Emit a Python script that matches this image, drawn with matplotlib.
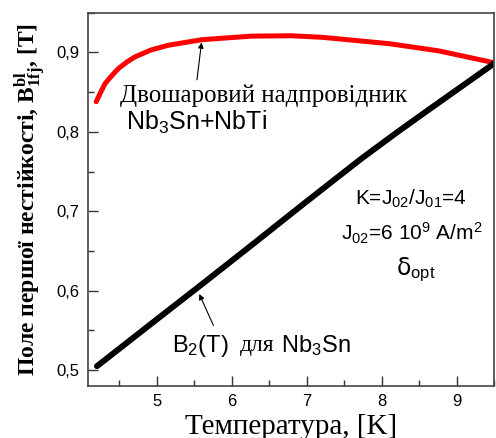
import numpy as np
import matplotlib.pyplot as plt
from matplotlib.ticker import MultipleLocator, FuncFormatter

plt.rcParams['font.family'] = ['Liberation Sans', 'DejaVu Sans']
plt.rcParams['mathtext.fontset'] = 'custom'
plt.rcParams['mathtext.rm'] = 'Liberation Sans'
plt.rcParams['mathtext.it'] = 'Liberation Sans:italic'
plt.rcParams['mathtext.bf'] = 'Liberation Serif:bold'

#red curve: two-layer superconductor Nb3Sn+NbTi
tRed = [4.19, 4.25, 4.31, 4.40, 4.49, 4.60, 4.71, 4.92, 5.15, 5.60, 6.26, 6.79, 7.21, 8.10, 8.76, 9.5]
bRed = [0.838, 0.850, 0.861, 0.871, 0.880, 0.888, 0.8945, 0.903, 0.909, 0.916, 0.9205, 0.921, 0.919, 0.911, 0.902, 0.887]

#black line: B2(T) for Nb3Sn
tBlack = [4.20, 5.0, 5.64, 6.3, 6.90, 7.4, 7.74, 8.2, 8.6, 9.5]
bBlack = [0.505, 0.564, 0.611, 0.660, 0.705, 0.742, 0.767, 0.799, 0.826, 0.886]

xTicks = [5, 6, 7, 8, 9]
yTicks = [0.5, 0.6, 0.7, 0.8, 0.9]

fig = plt.figure(figsize=(4.96, 4.38), dpi=100)
ax = fig.add_axes([0.1774, 0.1187, 0.8186, 0.8523])

ax.plot(tRed, bRed, color='red', linewidth=3.6, solid_capstyle='round')
ax.plot(tBlack, bBlack, color='black', linewidth=4.3, solid_capstyle='round')

ax.set_xlim(4.08, 9.5)
ax.set_ylim(0.48, 0.95)
ax.set_xticks(xTicks)
ax.set_yticks(yTicks)
ax.xaxis.set_minor_locator(MultipleLocator(0.5))
ax.yaxis.set_minor_locator(MultipleLocator(0.05))
ax.yaxis.set_major_formatter(FuncFormatter(lambda v, p: ('%.1f' % v).replace('.', ',')))
ax.tick_params(which='both', direction='in', labelsize=12, color='#333333', pad=6)
ax.tick_params(which='major', length=7, width=1)
ax.tick_params(which='minor', length=4, width=1)
for s in ax.spines.values():
    s.set_color('#444444')
    s.set_linewidth(1.2)

ax.set_xlabel('Температура, [K]', family='Liberation Serif', fontsize=21, labelpad=3)
ax.set_ylabel(r'Поле першої нестійкості, $\mathbf{B^{bl}_{1fj}}$, [T]',
              family='Liberation Serif', fontsize=17, fontweight='bold', labelpad=6)

#annotations
ax.text(4.51, 0.845, 'Двошаровий надпровідник', family='Liberation Serif', fontsize=18,
        va='center', ha='left')
ax.text(4.59, 0.812, r'Nb$_3$Sn+NbTi', fontsize=18, va='center', ha='left')
ax.annotate('', xy=(5.60, 0.916), xytext=(5.53, 0.862),
            arrowprops=dict(arrowstyle='-|>', color='black', lw=0.8, mutation_scale=8))

#label B2(T) для Nb3Sn built from pieces placed one after another (gap in pixels)
fig.canvas.draw()
renderer = fig.canvas.get_renderer()
pieces = [(r'B$_2$(T)', 'Liberation Sans', 0), ('для', 'Liberation Serif', 11), (r'Nb$_3$Sn', 'Liberation Sans', 7)]
xPix, yPix = ax.transData.transform((5.2, 0.531))
for txt, fam, gap in pieces:
    xPix += gap
    t = fig.text(xPix / fig.dpi / 4.96, yPix / fig.dpi / 4.38, txt, family=fam, fontsize=17,
                 va='center', ha='left')
    xPix = t.get_window_extent(renderer).x1
ax.annotate('', xy=(5.55, 0.599), xytext=(5.77, 0.553),
            arrowprops=dict(arrowstyle='-|>', color='black', lw=0.8, mutation_scale=8))

ax.text(8.39, 0.716, r'K=J$_{02}$/J$_{01}$=4', fontsize=15, va='center', ha='center')
ax.text(8.40, 0.672, r'J$_{02}$=6 10$^9$ A/m$^2$', fontsize=15, va='center', ha='center')
ax.text(8.45, 0.626, r'δ$_{\mathrm{opt}}$', family='DejaVu Sans', fontsize=17, va='center', ha='center')

fig.savefig('out.png', dpi=100)
